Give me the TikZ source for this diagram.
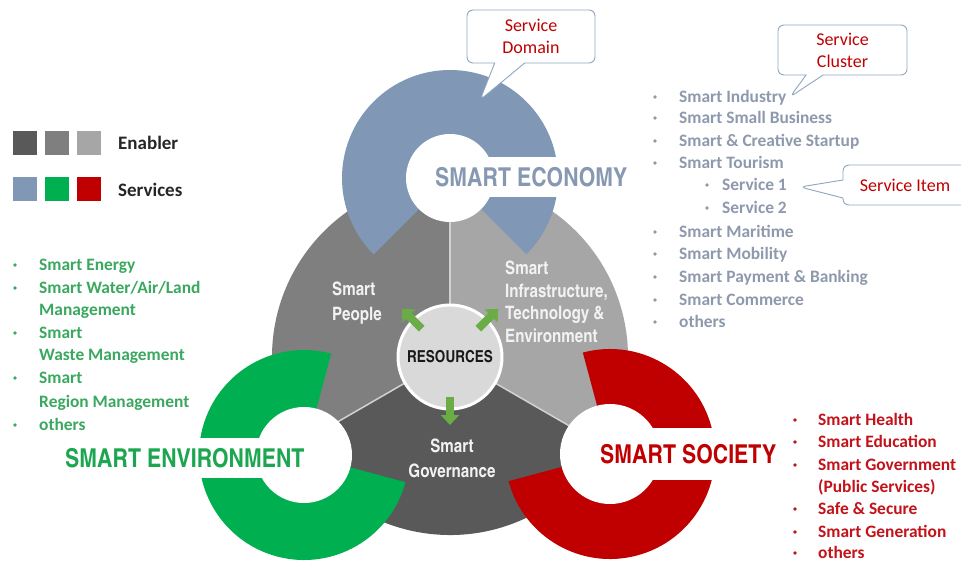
\documentclass[tikz,border=0pt]{standalone}
\usepackage{fontspec}
\setmainfont{Carlito}
\newfontfamily\condfont{texgyreheroscn}[Extension=.otf,UprightFont=*-regular,BoldFont=*-bold]
\usetikzlibrary{positioning,calc,arrows.meta,shapes.callouts}

\definecolor{govgrey}{HTML}{595959}
\definecolor{pplgrey}{HTML}{7F7F7F}
\definecolor{infgrey}{HTML}{A6A6A6}
\definecolor{econblue}{HTML}{8097B5}
\definecolor{envgreen}{HTML}{00B050}
\definecolor{socred}{HTML}{C00000}
\definecolor{econtext}{HTML}{8798B2}
\definecolor{envtext}{HTML}{1BA64F}
\definecolor{ecolist}{HTML}{8E99AD}
\definecolor{envlist}{HTML}{3AA85F}
\definecolor{soclist}{HTML}{C2121A}
\definecolor{resgreen}{HTML}{6AAD46}
\definecolor{callline}{HTML}{8FA6C0}
\definecolor{divline}{HTML}{D2D2D2}
\definecolor{resfill}{HTML}{D9D9D9}

\begin{document}
\begin{tikzpicture}[x=1pt, y=1pt,
        legbox/.style={rectangle, minimum size=24pt, inner sep=0pt},
        legtxt/.style={font=\fontsize{19}{19}\selectfont\bfseries, text=black!85, anchor=west, inner sep=0pt, text height=12.2pt, text depth=0pt},
        headline/.style={font=\condfont\bfseries\fontsize{26}{26}\selectfont, fill=white, anchor=west, inner xsep=2pt, inner ysep=0pt, text height=18.7pt, text depth=0pt},
        sectlabel/.style={font=\condfont\bfseries\fontsize{18.5}{25}\selectfont, text=white!95!black, inner sep=0pt},
        listitem/.style={font=\fontsize{17.4}{17.4}\selectfont\bfseries, anchor=west, inner sep=0pt, text height=11.2pt, text depth=0pt},
        dot/.style={circle, inner sep=0pt, minimum size=3.6pt},
        resarrow/.style={draw=resgreen, line width=8pt, -{Triangle[width=18pt, length=10pt]}},
        callbox/.style={rectangle callout, draw=callline, line width=0.9pt, rounded corners=6pt, fill=white, text=socred, align=center, font=\fontsize{18}{22}\selectfont, inner sep=2pt}
        ]
        \fill[white] (0,0) rectangle (961,-561);
        \useasboundingbox (0,0) rectangle (961,-561);

        % enabler disc
        \coordinate (hub) at (450,-357);
        \fill[pplgrey] (hub) -- ++(90:178pt) arc[start angle=90, end angle=210, radius=178pt] -- cycle;
        \fill[govgrey] (hub) -- ++(210:178pt) arc[start angle=210, end angle=330, radius=178pt] -- cycle;
        \fill[infgrey] (hub) -- ++(330:178pt) arc[start angle=330, end angle=450, radius=178pt] -- cycle;
        \foreach \a in {90,210,330}
          \draw[divline, line width=1.5pt] (hub) -- ++(\a:178pt);

        % service rings
        \coordinate (econC) at (450,-178);
        \coordinate (envC) at (304,-455);
        \coordinate (socC) at (610,-454);
        \fill[econblue] (econC) -- ++(-45:108pt) arc[start angle=-45, end angle=225, radius=108pt] -- cycle;
        \fill[white] (econC) circle[radius=44pt];
        \fill[envgreen] (envC) -- ++(75:105pt) arc[start angle=75, end angle=345, radius=105pt] -- cycle;
        \fill[white] (envC) circle[radius=48pt];
        \fill[socred] (socC) -- ++(195:105pt) arc[start angle=195, end angle=465, radius=105pt] -- cycle;
        \fill[white] (socC) circle[radius=50pt];

        \node[headline, text=econtext, minimum height=40pt] (econ) at (433,-177) {SMART ECONOMY};
        \node[headline, text=envtext, minimum height=40pt] (env) at (63,-458) {SMART ENVIRONMENT};
        \node[headline, text=socred, minimum height=52pt] (soc) at (598,-454) {SMART SOCIETY};

        % resources
        \node[circle, fill=resfill, draw=white, line width=3pt, minimum size=104pt, inner sep=0pt,
              font=\condfont\bfseries\fontsize{16.5}{16.5}\selectfont, text=black!90] (res) at (hub) {RESOURCES};
        \foreach \a in {135,45,270}
          \draw[resarrow] ($(res.center)+(\a:40pt)$) -- ($(res.center)+(\a:68pt)$);

        \node[sectlabel, anchor=north west, align=left] (ppl) at (332,-281.5) {Smart\\People};
        \node[sectlabel, anchor=north west, align=left, font=\condfont\bfseries\fontsize{18.5}{22.7}\selectfont] (infra) at (505,-260.5) {Smart\\Infrastructure,\\Technology \&\\Environment};
        \node[sectlabel, anchor=north, align=center] (gov) at (452,-438.5) {Smart\\Governance};

        % legend
        \foreach \c [count=\i] in {govgrey,pplgrey,infgrey}
          \node[legbox, fill=\c] (enb\i) at (25+32*\i-32,-143) {};
        \foreach \c [count=\i] in {econblue,envgreen,socred}
          \node[legbox, fill=\c] (svb\i) at (25+32*\i-32,-189.5) {};
        \node[legtxt] (enabler) at (118,-143) {Enabler};
        \node[legtxt] (services) at (118,-190) {Services};

        % service lists
        \foreach \bx/\tx/\yy/\txt [count=\i] in {655/679/97/Smart Industry, 655/679/118/Smart Small Business,
            655/679/141/Smart \& Creative Startup, 655/679/163/Smart Tourism, 707/722/185/Service 1,
            707/722/208/Service 2, 655/679/232/Smart Maritime, 655/679/254/Smart Mobility,
            655/679/277/Smart Payment \& Banking, 655/679/300/Smart Commerce, 655/679/322/others} {
          \node[dot, fill=ecolist] (ecob\i) at (\bx,-\yy) {};
          \node[listitem, text=ecolist] (eco\i) at (\tx,-\yy) {\txt};
        }
        \foreach \bul/\yy/\txt [count=\i] in {1/265/Smart Energy, 1/288/{Smart Water/Air/Land}, 0/310/Management,
            1/333/Smart, 0/355/Waste Management, 1/378/Smart, 0/402/Region Management, 1/425/others} {
          \ifnum\bul=1 \node[dot, fill=envlist] (envb\i) at (15,-\yy) {}; \fi
          \node[listitem, text=envlist] (env\i) at (39,-\yy) {\txt};
        }
        \foreach \bul/\yy/\txt [count=\i] in {1/420/Smart Health, 1/442/Smart Education, 1/465/Smart Government,
            0/487/(Public Services), 1/509/Safe \& Secure, 1/532/Smart Generation, 1/553/others} {
          \ifnum\bul=1 \node[dot, fill=soclist] (socb\i) at (795,-\yy) {}; \fi
          \node[listitem, text=soclist] (soc\i) at (818,-\yy) {\txt};
        }

        % callouts
        \node[callbox, callout absolute pointer={(480,-100)}, callout pointer width=30pt,
              minimum width=128pt, minimum height=53pt] (domain) at (531,-36.5) {Service\\Domain};
        \node[callbox, callout absolute pointer={(790,-97)}, callout pointer width=17pt,
              minimum width=129pt, minimum height=50pt] (cluster) at (842.5,-50) {Service\\Cluster};
        \node[callbox, callout absolute pointer={(800,-187)}, callout pointer width=18pt,
              minimum width=124pt, minimum height=40pt] (item) at (905,-185) {Service Item};
    \end{tikzpicture}
\end{document}
